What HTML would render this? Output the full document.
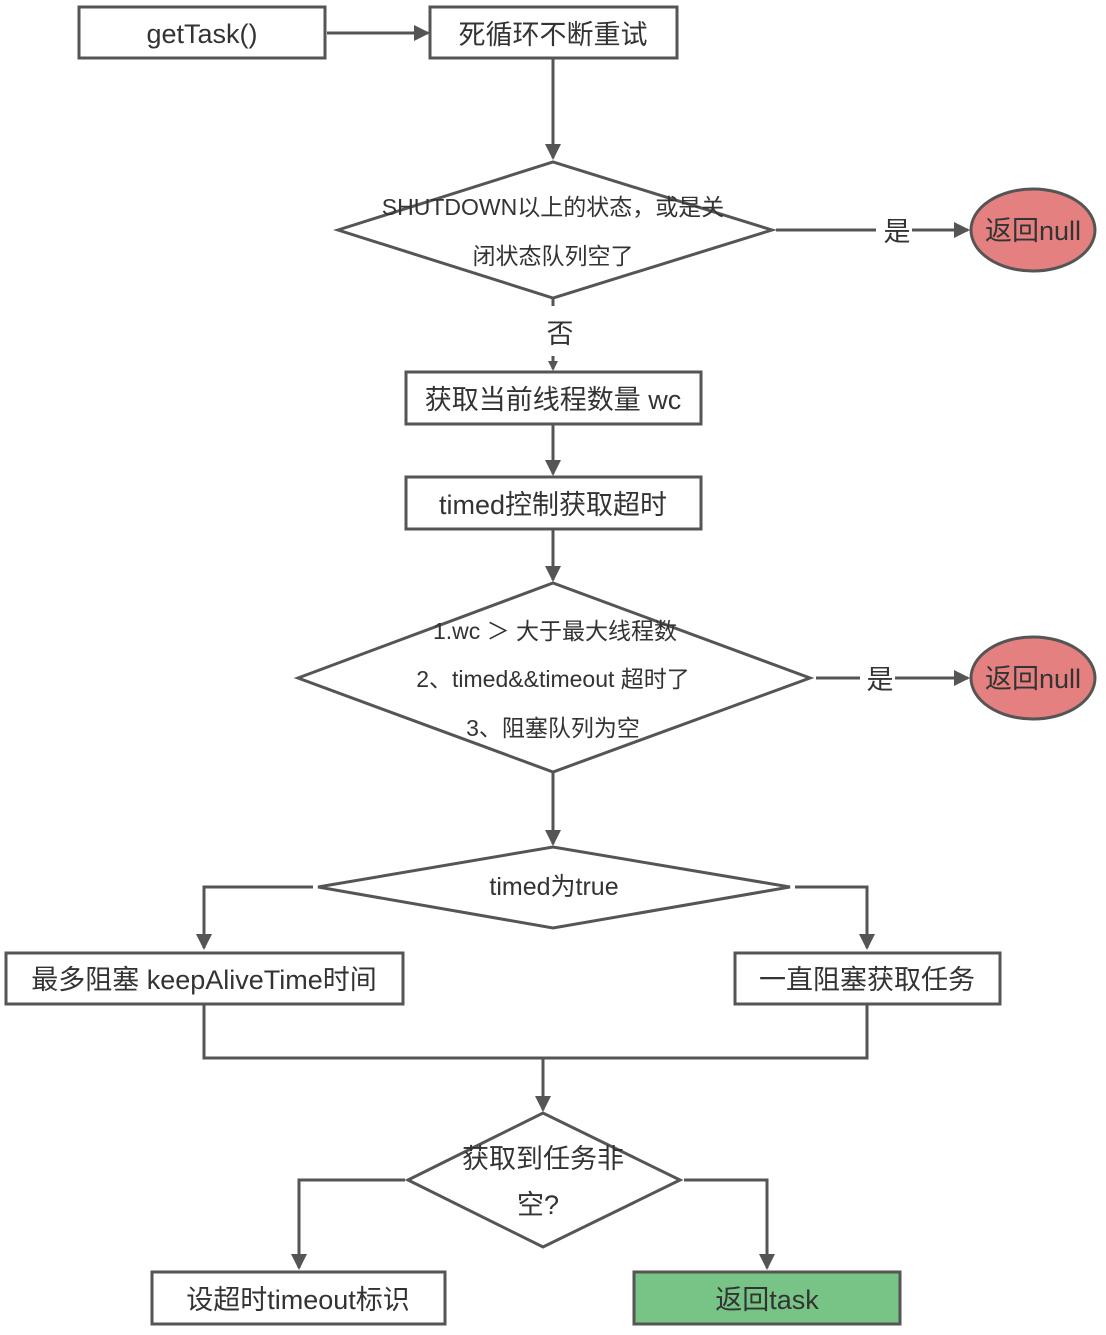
<!DOCTYPE html>
<html><head><meta charset="utf-8"><style>
body{margin:0;background:#fff}
svg text{font-family:"Liberation Sans","Noto Sans CJK SC",sans-serif;fill:#333}
</style></head><body>
<svg width="1106" height="1330" xmlns="http://www.w3.org/2000/svg">
<defs><marker id="a" markerWidth="10" markerHeight="10" refX="8" refY="5" orient="auto" markerUnits="userSpaceOnUse"><path d="M0,0 L10,5 L0,10 Z" fill="#555"/></marker>
<marker id="b" viewBox="0 0 16 20" markerWidth="16" markerHeight="20" refX="14" refY="10" orient="auto" markerUnits="userSpaceOnUse"><path d="M0,2 L16,10 L0,18 Z" fill="#555"/></marker></defs>
<g stroke="#555" stroke-width="3" fill="none">
<rect x="79" y="7" width="246" height="51" fill="#fff"/>
<rect x="430" y="7" width="247" height="51" fill="#fff"/>
<line x1="327" y1="33" x2="428" y2="33" marker-end="url(#b)"/>
<line x1="553" y1="58" x2="553" y2="158" marker-end="url(#b)"/>
<polygon points="338,230 553,162 772,230 553,298" fill="#fff"/>
<line x1="776" y1="230" x2="876" y2="230"/>
<line x1="912" y1="230" x2="968" y2="230" marker-end="url(#b)"/>
<ellipse cx="1033" cy="230" rx="62" ry="41" fill="#e58080"/>
<line x1="553" y1="299" x2="553" y2="306"/>
<line x1="553" y1="356" x2="553" y2="369" marker-end="url(#a)"/>
<rect x="406" y="372" width="295" height="52" fill="#fff"/>
<line x1="553" y1="424" x2="553" y2="474" marker-end="url(#b)"/>
<rect x="406" y="477" width="295" height="52" fill="#fff"/>
<line x1="553" y1="529" x2="553" y2="580" marker-end="url(#b)"/>
<polygon points="298,678 553,583 810,678 553,772" fill="#fff"/>
<line x1="816" y1="678" x2="860" y2="678"/>
<line x1="895" y1="678" x2="968" y2="678" marker-end="url(#b)"/>
<ellipse cx="1033" cy="678" rx="62" ry="41" fill="#e58080"/>
<line x1="553" y1="772" x2="553" y2="844" marker-end="url(#b)"/>
<polygon points="318,887 553,847 790,887 553,928" fill="#fff"/>
<polyline points="313,887 204,887 204,948" marker-end="url(#b)"/>
<polyline points="795,887 867,887 867,948" marker-end="url(#b)"/>
<rect x="6" y="953" width="397" height="51" fill="#fff"/>
<rect x="735" y="953" width="265" height="51" fill="#fff"/>
<polyline points="204,1004 204,1058 867,1058 867,1004"/>
<line x1="543" y1="1058" x2="543" y2="1110" marker-end="url(#b)"/>
<polygon points="408,1180 543,1113 680,1180 543,1247" fill="#fff"/>
<polyline points="405,1180 299,1180 299,1268" marker-end="url(#b)"/>
<polyline points="684,1180 767,1180 767,1268" marker-end="url(#b)"/>
<rect x="152" y="1272" width="293" height="52" fill="#fff"/>
<rect x="634" y="1272" width="266" height="52" fill="#77c486"/>
</g>
<g font-size="27" text-anchor="middle">
<text x="202" y="43">getTask()</text>
<text x="553" y="44">死循环不断重试</text>
<text x="897" y="241">是</text>
<text x="1033" y="240">返回null</text>
<text x="560" y="343">否</text>
<text x="553" y="409">获取当前线程数量 wc</text>
<text x="553" y="514">timed控制获取超时</text>
<text x="880" y="689">是</text>
<text x="1033" y="688">返回null</text>
<text x="204" y="989">最多阻塞 keepAliveTime时间</text>
<text x="867" y="989">一直阻塞获取任务</text>
<text x="543" y="1168">获取到任务非</text>
<text x="538" y="1214">空?</text>
<text x="298" y="1309">设超时timeout标识</text>
<text x="767" y="1309">返回task</text>
</g>
<g font-size="23" text-anchor="middle">
<text x="553" y="215">SHUTDOWN以上的状态，或是关</text>
<text x="553" y="264">闭状态队列空了</text>
<text x="555" y="639">1.wc ＞ 大于最大线程数</text>
<text x="553" y="687">2、timed&amp;&amp;timeout 超时了</text>
<text x="553" y="736">3、阻塞队列为空</text>
<text x="554" y="895" font-size="25">timed为true</text>
</g>
</svg>
</body></html>
